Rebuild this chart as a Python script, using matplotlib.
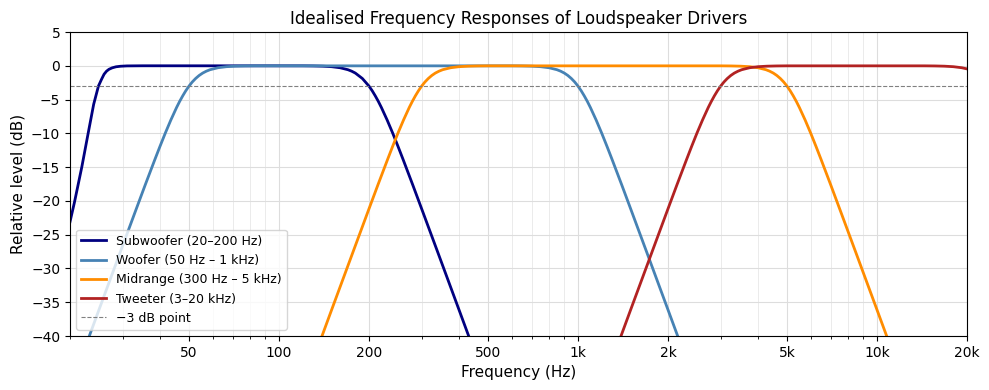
import matplotlib
matplotlib.use("Agg")
import matplotlib.pyplot as plt
from matplotlib.ticker import FixedLocator, FixedFormatter, LogLocator, NullFormatter

# ---- data (frequency in Hz, level in dB) ----
sub_freq = [20, 20.7, 21.9, 23.0, 24.0, 24.9, 25.5, 26.0, 26.5, 27.0,
            27.7, 28.5, 29.5, 31, 35,
            120, 130, 140, 150, 160, 170, 175, 180, 190, 200,
            205, 210, 215, 220, 230, 240, 250, 260, 280, 300,
            340, 400, 440, 500]
sub_db = [-23.1, -20.2, -15.0, -10.0, -5.7, -3.0, -2.0, -1.25, -0.8, -0.52,
          -0.3, -0.15, -0.07, -0.02, 0.0,
          -0.01, -0.025, -0.06, -0.135, -0.29, -0.58, -0.80, -1.08, -1.88, -3.01,
          -3.70, -4.47, -5.29, -6.17, -8.03, -9.96, -11.92, -13.86, -17.61, -21.17,
          -27.66, -36.12, -41.09, -47.75]

woof_freq = [20, 22.73, 25, 29.41, 33.33, 35.71, 38.46, 40, 41.67, 43.48,
             45.45, 46.51, 47.62, 48.78, 50, 51.28, 52.63, 54.05, 55.56, 57.14,
             58.82, 62.5, 66.67, 71.43, 76.92, 83.33,
             600, 650, 700, 750, 800, 850, 875, 900, 925, 950,
             975, 1000, 1025, 1050, 1075, 1100, 1150, 1200, 1250, 1300,
             1400, 1500, 1700, 2000, 2200]
woof_db = [-47.75, -41.09, -36.12, -27.66, -21.17, -17.61, -13.86, -11.92, -9.96, -8.03,
           -6.17, -5.29, -4.47, -3.70, -3.01, -2.40, -1.88, -1.44, -1.08, -0.80,
           -0.58, -0.29, -0.135, -0.06, -0.025, -0.01,
           -0.01, -0.025, -0.06, -0.135, -0.29, -0.58, -0.80, -1.08, -1.44, -1.88,
           -2.40, -3.01, -3.70, -4.47, -5.29, -6.17, -8.03, -9.96, -11.92, -13.86,
           -17.61, -21.17, -27.66, -36.12, -41.09]

mid_freq = [120, 136.4, 150, 176.5, 200, 214.3, 230.8, 240, 250, 260.9,
            272.7, 279.1, 285.7, 292.7, 300, 307.7, 315.8, 324.3, 333.3, 342.9,
            352.9, 375, 400, 428.6, 461.5, 500,
            3000, 3250, 3500, 3750, 4000, 4250, 4375, 4500, 4625, 4750,
            4875, 5000, 5125, 5250, 5375, 5500, 5750, 6000, 6250, 6500,
            7000, 7500, 8500, 10000, 11000]
mid_db = [-47.75, -41.09, -36.12, -27.66, -21.17, -17.61, -13.86, -11.92, -9.96, -8.03,
          -6.17, -5.29, -4.47, -3.70, -3.01, -2.40, -1.88, -1.44, -1.08, -0.80,
          -0.58, -0.29, -0.135, -0.06, -0.025, -0.01,
          -0.01, -0.025, -0.06, -0.135, -0.29, -0.58, -0.80, -1.08, -1.44, -1.88,
          -2.40, -3.01, -3.70, -4.47, -5.29, -6.17, -8.03, -9.96, -11.92, -13.86,
          -17.61, -21.17, -27.66, -36.12, -41.09]

tw_freq = [1200, 1364, 1500, 1765, 2000, 2143, 2308, 2400, 2500, 2609,
           2727, 2791, 2857, 2927, 3000, 3077, 3158, 3243, 3333, 3429,
           3529, 3750, 4000, 4286, 4615, 5000,
           14400, 15600, 16800, 18000, 19200, 20000, 20400]
tw_db = [-47.75, -41.09, -36.12, -27.66, -21.17, -17.61, -13.86, -11.92, -9.96, -8.03,
         -6.17, -5.29, -4.47, -3.70, -3.01, -2.40, -1.88, -1.44, -1.08, -0.80,
         -0.58, -0.29, -0.135, -0.06, -0.025, -0.01,
         -0.01, -0.025, -0.06, -0.135, -0.29, -0.46, -0.58]

labels = ["Subwoofer (20\u2013200 Hz)", "Woofer (50 Hz \u2013 1 kHz)",
          "Midrange (300 Hz \u2013 5 kHz)", "Tweeter (3\u201320 kHz)"]
colors = ["#000080", "#4682B4", "#FF8C00", "#B22222"]
ref_level = -3
xtick_vals = [50, 100, 200, 500, 1000, 2000, 5000, 10000, 20000]
xtick_labels = ["50", "100", "200", "500", "1k", "2k", "5k", "10k", "20k"]

fig = plt.figure(figsize=(9.89, 3.90), dpi=100)
ax = fig.add_axes([70 / 989, 1 - 336 / 390, (967 - 70) / 989, (336 - 32) / 390])

series = [(sub_freq, sub_db), (woof_freq, woof_db), (mid_freq, mid_db), (tw_freq, tw_db)]
for (f, d), lab, c in zip(series, labels, colors):
    ax.plot(f, d, color=c, lw=2, label=lab)
ax.axhline(ref_level, color="gray", ls="--", lw=0.8, label="\u22123 dB point")

ax.set_xscale("log")
ax.set_xlim(20, 20000)
ax.set_ylim(-40, 5)
ax.set_yticks(range(-40, 6, 5))
ax.xaxis.set_major_locator(FixedLocator(xtick_vals))
ax.xaxis.set_major_formatter(FixedFormatter(xtick_labels))
ax.xaxis.set_minor_locator(LogLocator(base=10, subs=range(2, 10)))
ax.xaxis.set_minor_formatter(NullFormatter())

ax.grid(True, which="major", color="#dddddd", lw=0.8)
ax.grid(True, which="minor", color="#e8e8e8", lw=0.6)
ax.set_axisbelow(True)

ax.set_xlabel("Frequency (Hz)", fontsize=11)
ax.set_ylabel("Relative level (dB)", fontsize=11)
ax.set_title("Idealised Frequency Responses of Loudspeaker Drivers", fontsize=12)
ax.legend(loc="lower left", fontsize=9)

fig.savefig("out.png", dpi=100)
